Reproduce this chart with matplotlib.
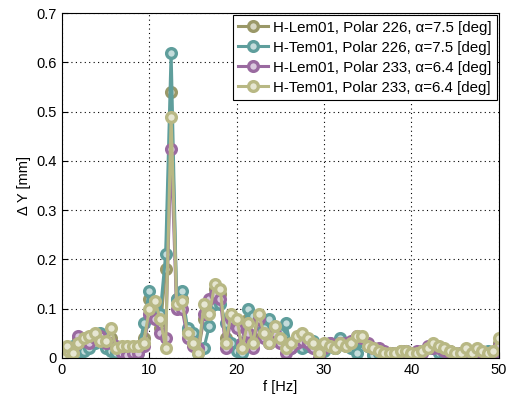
import matplotlib
matplotlib.use('Agg')
import matplotlib.pyplot as plt
import numpy as np

plt.rcParams['font.family'] = ['Liberation Sans', 'DejaVu Sans']

# frequency grid [Hz]
freq = np.linspace(0, 50, 81)

lem226 = [0.000, 0.020, 0.020, 0.040, 0.030, 0.035, 0.045, 0.040, 0.025, 0.040,
          0.020, 0.015, 0.015, 0.015, 0.015, 0.040, 0.120, 0.105, 0.060, 0.180,
          0.540, 0.120, 0.120, 0.055, 0.035, 0.015, 0.080, 0.100, 0.140, 0.130,
          0.040, 0.085, 0.070, 0.025, 0.080, 0.040, 0.085, 0.055, 0.035, 0.055,
          0.040, 0.030, 0.025, 0.035, 0.040, 0.035, 0.030, 0.015, 0.025, 0.025,
          0.020, 0.030, 0.025, 0.025, 0.035, 0.040, 0.025, 0.015, 0.015, 0.010,
          0.010, 0.010, 0.015, 0.010, 0.010, 0.010, 0.015, 0.020, 0.025, 0.020,
          0.015, 0.015, 0.010, 0.010, 0.015, 0.010, 0.015, 0.010, 0.010, 0.010,
          0.030]
tem226 = [0.005, 0.020, 0.025, 0.010, 0.015, 0.020, 0.030, 0.050, 0.020, 0.015,
          0.010, 0.010, 0.010, 0.005, 0.010, 0.070, 0.135, 0.100, 0.090, 0.210,
          0.620, 0.120, 0.135, 0.060, 0.050, 0.010, 0.020, 0.065, 0.110, 0.110,
          0.070, 0.030, 0.015, 0.010, 0.100, 0.085, 0.080, 0.060, 0.080, 0.040,
          0.050, 0.070, 0.020, 0.030, 0.020, 0.025, 0.035, 0.025, 0.015, 0.030,
          0.020, 0.040, 0.030, 0.020, 0.010, 0.035, 0.025, 0.005, 0.010, 0.005,
          0.010, 0.005, 0.010, 0.015, 0.010, 0.010, 0.015, 0.020, 0.020, 0.010,
          0.010, 0.010, 0.005, 0.010, 0.015, 0.010, 0.005, 0.010, 0.015, 0.005,
          0.010]
lem233 = [0.000, 0.015, 0.020, 0.045, 0.035, 0.030, 0.040, 0.045, 0.030, 0.030,
          0.025, 0.010, 0.005, 0.010, 0.010, 0.025, 0.090, 0.080, 0.050, 0.040,
          0.425, 0.100, 0.100, 0.040, 0.025, 0.020, 0.090, 0.120, 0.130, 0.120,
          0.020, 0.080, 0.060, 0.030, 0.050, 0.020, 0.080, 0.040, 0.030, 0.050,
          0.030, 0.010, 0.020, 0.030, 0.035, 0.030, 0.020, 0.000, 0.020, 0.030,
          0.025, 0.030, 0.030, 0.035, 0.045, 0.040, 0.030, 0.020, 0.020, 0.015,
          0.010, 0.005, 0.010, 0.015, 0.010, 0.015, 0.010, 0.025, 0.020, 0.020,
          0.015, 0.010, 0.005, 0.010, 0.015, 0.010, 0.015, 0.010, 0.005, 0.010,
          0.025]
tem233 = [0.000, 0.025, 0.010, 0.030, 0.040, 0.045, 0.050, 0.035, 0.035, 0.060,
          0.020, 0.025, 0.025, 0.025, 0.025, 0.030, 0.100, 0.115, 0.080, 0.020,
          0.490, 0.110, 0.115, 0.050, 0.030, 0.010, 0.110, 0.090, 0.150, 0.140,
          0.030, 0.090, 0.080, 0.020, 0.070, 0.030, 0.090, 0.050, 0.030, 0.065,
          0.040, 0.020, 0.030, 0.045, 0.050, 0.040, 0.030, 0.010, 0.030, 0.025,
          0.020, 0.030, 0.025, 0.030, 0.045, 0.045, 0.025, 0.020, 0.015, 0.010,
          0.010, 0.010, 0.015, 0.015, 0.010, 0.010, 0.015, 0.020, 0.030, 0.025,
          0.020, 0.015, 0.010, 0.010, 0.020, 0.010, 0.020, 0.015, 0.010, 0.015,
          0.040]

labels = ['H-Lem01, Polar 226, α=7.5 [deg]',
          'H-Tem01, Polar 226, α=7.5 [deg]',
          'H-Lem01, Polar 233, α=6.4 [deg]',
          'H-Tem01, Polar 233, α=6.4 [deg]']
colors = ['#9a9868', '#5f9e9c', '#9a6aa0', '#b8b884']
face = ['#d8d7c4', '#c4dcdb', '#dac8dd', '#e6e6d2']

fig = plt.figure(figsize=(5.07, 3.99), dpi=100)
ax = fig.add_axes([0.122, 0.103, 0.862, 0.864])

for y, lab, c, fc in zip([lem226, tem226, lem233, tem233], labels, colors, face):
    ax.plot(freq, y, '-o', color=c, lw=2.2, ms=7, mew=2.4,
            mfc=fc, mec=c, label=lab)

ax.set_xlim(0, 50)
ax.set_ylim(0, 0.7)
ax.set_xticks([0, 10, 20, 30, 40, 50])
ax.set_yticks(np.arange(0, 0.71, 0.1))
ax.set_yticklabels(['0', '0.1', '0.2', '0.3', '0.4', '0.5', '0.6', '0.7'])
ax.tick_params(direction='in', labelsize=10.5, length=4)
ax.grid(True, linestyle=(0, (1, 3)), color='black', lw=0.8)
ax.set_xlabel('f [Hz]', fontsize=10.5, labelpad=2)
ax.set_ylabel('Δ Y [mm]', fontsize=10.5)

leg = ax.legend(loc='upper right', fontsize=10.8, fancybox=False, framealpha=1,
                edgecolor='black', handlelength=2, handletextpad=0.3,
                borderaxespad=0.15, labelspacing=0.4, borderpad=0.35)
leg.get_frame().set_linewidth(0.8)

fig.savefig('out.png', dpi=100)
